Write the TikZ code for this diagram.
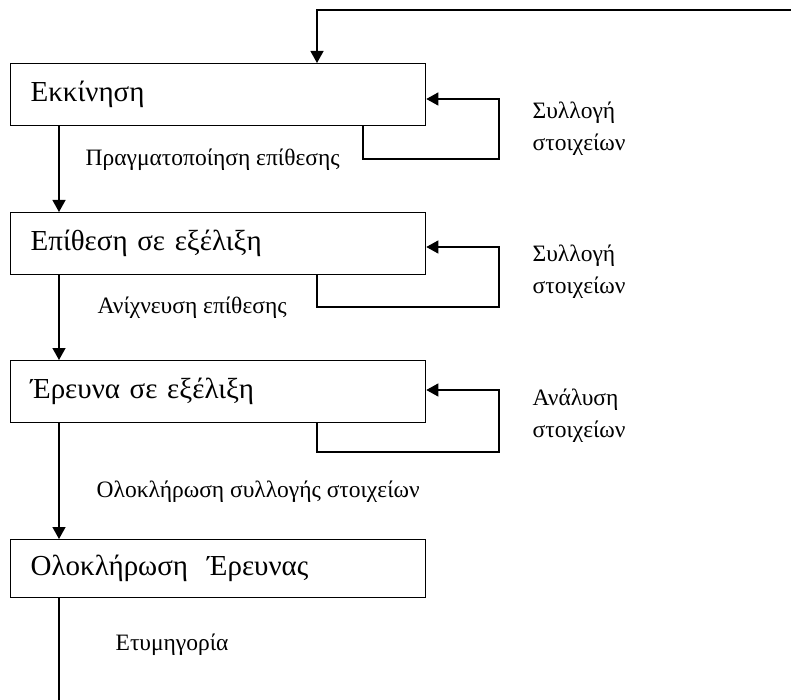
\documentclass[tikz,border=0pt]{standalone}
\usepackage{fontspec}
\setmainfont{Liberation Serif}
\usetikzlibrary{arrows.meta}
\begin{document}
\begin{tikzpicture}[x=1pt,y=-1pt,
  line width=1.3pt,
  stepbox/.style={draw, anchor=north west, minimum height=62pt,
    text width=375pt, inner xsep=20pt, inner ysep=0pt, align=left,
    font=\fontsize{29}{32}\selectfont},
  lbl/.style={anchor=west, inner sep=0pt, align=left,
    font=\fontsize{23.5}{32}\selectfont},
  arr/.style={-{Triangle[width=13pt,length=12pt]}}]
\useasboundingbox (0,0) rectangle (791,700);

% stages
\node[stepbox] (s1) at (10,63) {Εκκίνηση};
\node[stepbox] (s2) at (10,212) {Επίθεση σε εξέλιξη};
\node[stepbox] (s3) at (10,360) {Έρευνα σε εξέλιξη};
\node[stepbox, minimum height=58pt] (s4) at (10,539) {Ολοκλήρωση \ Έρευνας};

% main flow
\coordinate (spine) at (59,0);
\draw[arr] (s1.south -| spine) -- (s2.north -| spine);
\draw[arr] (s2.south -| spine) -- (s3.north -| spine);
\draw[arr] (s3.south -| spine) -- (s4.north -| spine);
\coordinate (outEnd) at (59,700);
\draw (s4.south -| spine) -- (outEnd);

% return from the right edge into the start
\coordinate (backIn) at (791,10);
\coordinate (backTurn) at (317,10);
\draw[arr] (backIn) -- (backTurn) -- (backTurn |- s1.north);

% self loops
\coordinate (l1a) at (363,159);
\coordinate (l1b) at (499,99);
\draw[arr] (l1a |- s1.south) -- (l1a) -| (l1b) -- (l1b -| s1.east);
\coordinate (l2a) at (317,307);
\coordinate (l2b) at (499,247);
\draw[arr] (l2a |- s2.south) -- (l2a) -| (l2b) -- (l2b -| s2.east);
\coordinate (l3a) at (317,452);
\coordinate (l3b) at (499,390);
\draw[arr] (l3a |- s3.south) -- (l3a) -| (l3b) -- (l3b -| s3.east);

% transition labels
\node[lbl] (t1) at (85,160) {Πραγματοποίηση επίθεσης};
\node[lbl] (t2) at (97,308) {Ανίχνευση επίθεσης};
\node[lbl] (t3) at (96,492) {Ολοκλήρωση συλλογής στοιχείων};
\node[lbl] (t4) at (115,645) {Ετυμηγορία};

% loop labels
\node[lbl] (c1) at (532,129) {Συλλογή\\στοιχείων};
\node[lbl] (c2) at (532,272) {Συλλογή\\στοιχείων};
\node[lbl] (c3) at (532,416) {Ανάλυση\\στοιχείων};
\end{tikzpicture}
\end{document}
